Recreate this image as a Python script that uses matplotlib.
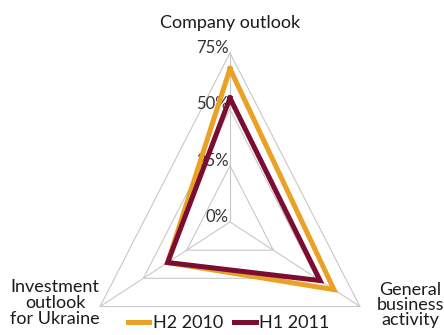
import numpy as np
import matplotlib
matplotlib.use("Agg")
import matplotlib.pyplot as plt

plt.rcParams['font.family'] = ['Lato', 'DejaVu Sans']

categories = ["Company outlook", "General\nbusiness\nactivity", "Investment\noutlook\nfor Ukraine"]
angles_deg = [90, -30, 210]
levels = [0, 25, 50, 75]
level_labels = ["0%", "25%", "50%", "75%"]
h2_2010 = [68, 60, 36]
h1_2011 = [55, 52, 36]

ORANGE = "#E9A126"
MAROON = "#7B0C32"
GRID = "#C8C8C8"
TEXT = "#1c1c1c"

ang = np.deg2rad(angles_deg)


def to_xy(vals):
    vals = np.asarray(vals, dtype=float)
    x = vals * np.cos(ang)
    y = vals * np.sin(ang)
    return np.append(x, x[0]), np.append(y, y[0])


fig = plt.figure(figsize=(4.44, 3.35), dpi=100)
ax = fig.add_axes([0, 0, 1, 1])
ax.set_xlim(-115, 107)
ax.set_ylim(-50.15, 98.5)
ax.axis("off")

# grid triangles and spokes
for lv in levels[1:]:
    gx, gy = to_xy([lv] * 3)
    ax.plot(gx, gy, color=GRID, lw=0.8, zorder=1)
for a in ang:
    ax.plot([0, 75 * np.cos(a)], [0, 75 * np.sin(a)], color=GRID, lw=0.8, zorder=1)

# radial tick labels
for lv, lab in zip(levels, level_labels):
    ax.text(-0.8, lv + 2.2, lab, ha="right", va="center", fontsize=12, color="#333333", zorder=2)

x1, y1 = to_xy(h2_2010)
x2, y2 = to_xy(h1_2011)
ax.plot(x1, y1, color=ORANGE, lw=3.6, solid_joinstyle="miter", zorder=3, label="H2 2010")
ax.plot(x2, y2, color=MAROON, lw=3.6, solid_joinstyle="miter", zorder=4, label="H1 2011")

# axis labels
ax.text(0, 88.3, categories[0], ha="center", va="center", fontsize=13, color=TEXT)
ax.text(90, -36.8, categories[1], ha="center", va="center", fontsize=13,
        color=TEXT, linespacing=0.92)
ax.text(-87.5, -36.0, categories[2], ha="center", va="center", fontsize=13,
        color=TEXT, linespacing=1.0)

leg = ax.legend(loc="lower center", bbox_to_anchor=(0.515, -0.01), ncol=2, frameon=False,
                fontsize=13, handlelength=1.2, handletextpad=0.2, columnspacing=0.6,
                borderaxespad=0)
for t in leg.get_texts():
    t.set_color(TEXT)

fig.savefig("out.png", dpi=100)
